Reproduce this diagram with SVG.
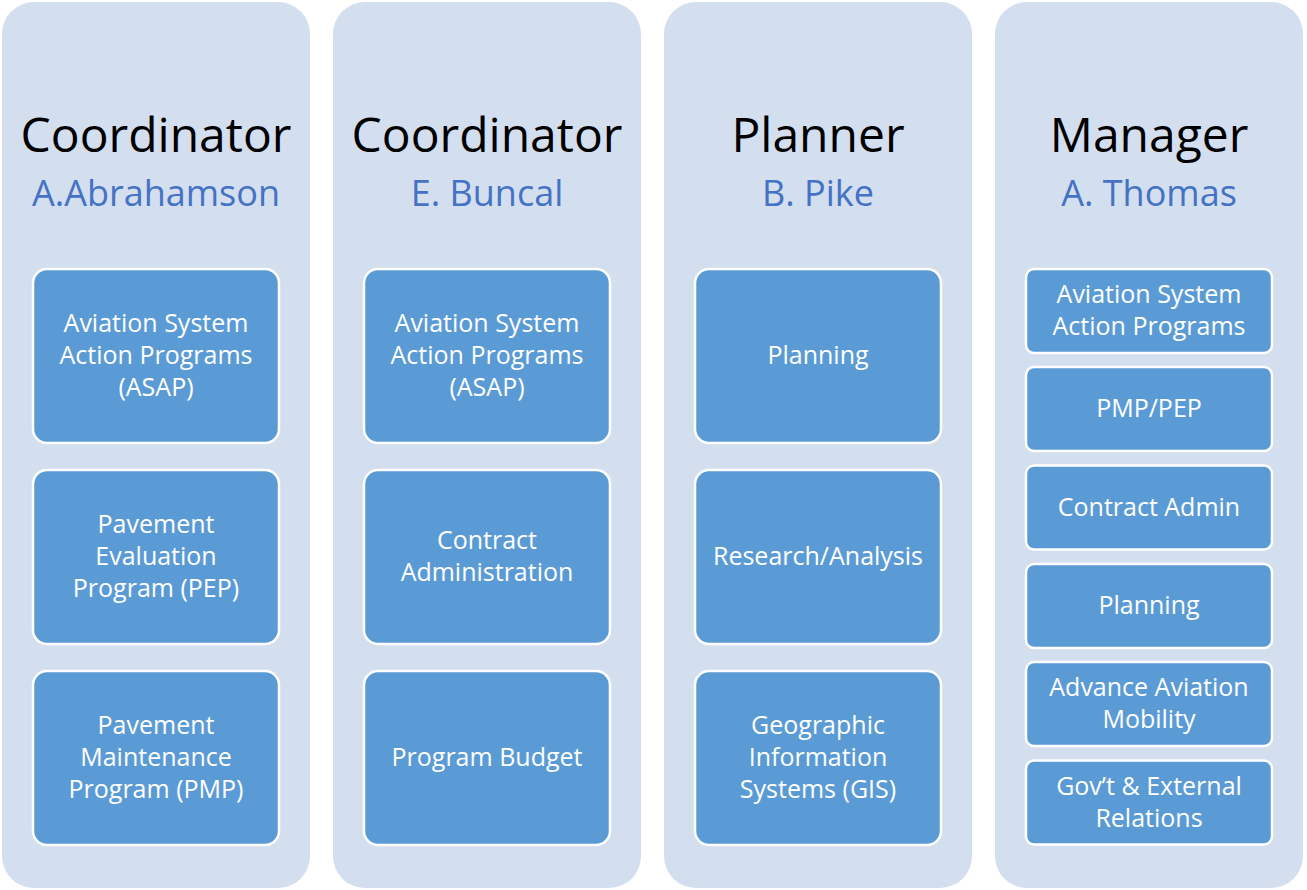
<svg xmlns="http://www.w3.org/2000/svg" width="1307" height="890" viewBox="0 0 1307 890">
<style>
.col{fill:#D3DEEF;}
.box{fill:#5B9BD5;stroke:#FFFFFF;stroke-width:2.5;}
.title{font-family:"Open Sans","Liberation Sans",sans-serif;font-size:48px;fill:#000;text-anchor:middle;}
.name{font-family:"Open Sans","Liberation Sans",sans-serif;font-size:36px;fill:#4472C4;text-anchor:middle;}
.t{font-family:"Open Sans","Liberation Sans",sans-serif;font-size:25px;fill:#FFFFFF;text-anchor:middle;}
</style>
<rect width="1307" height="890" fill="#FFFFFF"/>
<g id="col1">
<rect class="col" x="2" y="2" width="308" height="886" rx="32"/>
<text class="title" x="156" y="152">Coordinator</text>
<text class="name" x="156" y="206">A.Abrahamson</text>
</g>
<g id="col2">
<rect class="col" x="333" y="2" width="308" height="886" rx="32"/>
<text class="title" x="487" y="152">Coordinator</text>
<text class="name" x="487" y="206">E. Buncal</text>
</g>
<g id="col3">
<rect class="col" x="664" y="2" width="308" height="886" rx="32"/>
<text class="title" x="818" y="152">Planner</text>
<text class="name" x="818" y="206">B. Pike</text>
</g>
<g id="col4">
<rect class="col" x="995" y="2" width="308" height="886" rx="32"/>
<text class="title" x="1149" y="152">Manager</text>
<text class="name" x="1149" y="206">A. Thomas</text>
</g>
<g id="c1b1"><rect class="box" x="33" y="269" width="246" height="174" rx="14"/>
<text class="t" x="156" y="332">Aviation System</text><text class="t" x="156" y="364">Action Programs</text><text class="t" x="156" y="396">(ASAP)</text></g>
<g id="c1b2"><rect class="box" x="33" y="470" width="246" height="174" rx="14"/>
<text class="t" x="156" y="533">Pavement</text><text class="t" x="156" y="565">Evaluation</text><text class="t" x="156" y="597">Program (PEP)</text></g>
<g id="c1b3"><rect class="box" x="33" y="671" width="246" height="174" rx="14"/>
<text class="t" x="156" y="734">Pavement</text><text class="t" x="156" y="766">Maintenance</text><text class="t" x="156" y="798">Program (PMP)</text></g>
<g id="c2b1"><rect class="box" x="364" y="269" width="246" height="174" rx="14"/>
<text class="t" x="487" y="332">Aviation System</text><text class="t" x="487" y="364">Action Programs</text><text class="t" x="487" y="396">(ASAP)</text></g>
<g id="c2b2"><rect class="box" x="364" y="470" width="246" height="174" rx="14"/>
<text class="t" x="487" y="549">Contract</text><text class="t" x="487" y="581">Administration</text></g>
<g id="c2b3"><rect class="box" x="364" y="671" width="246" height="174" rx="14"/>
<text class="t" x="487" y="766">Program Budget</text></g>
<g id="c3b1"><rect class="box" x="695" y="269" width="246" height="174" rx="14"/>
<text class="t" x="818" y="364">Planning</text></g>
<g id="c3b2"><rect class="box" x="695" y="470" width="246" height="174" rx="14"/>
<text class="t" x="818" y="565">Research/Analysis</text></g>
<g id="c3b3"><rect class="box" x="695" y="671" width="246" height="174" rx="14"/>
<text class="t" x="818" y="734">Geographic</text><text class="t" x="818" y="766">Information</text><text class="t" x="818" y="798">Systems (GIS)</text></g>
<g id="c4b1"><rect class="box" x="1026" y="269" width="246" height="84" rx="8"/>
<text class="t" x="1149" y="303">Aviation System</text><text class="t" x="1149" y="335">Action Programs</text></g>
<g id="c4b2"><rect class="box" x="1026" y="367" width="246" height="84" rx="8"/>
<text class="t" x="1149" y="417">PMP/PEP</text></g>
<g id="c4b3"><rect class="box" x="1026" y="465.5" width="246" height="84" rx="8"/>
<text class="t" x="1149" y="515.5">Contract Admin</text></g>
<g id="c4b4"><rect class="box" x="1026" y="564" width="246" height="84" rx="8"/>
<text class="t" x="1149" y="614">Planning</text></g>
<g id="c4b5"><rect class="box" x="1026" y="662" width="246" height="84" rx="8"/>
<text class="t" x="1149" y="696">Advance Aviation</text><text class="t" x="1149" y="728">Mobility</text></g>
<g id="c4b6"><rect class="box" x="1026" y="760.5" width="246" height="84" rx="8"/>
<text class="t" x="1149" y="794.5">Gov’t &amp; External</text><text class="t" x="1149" y="826.5">Relations</text></g>
<g id="connectors"/>
</svg>
